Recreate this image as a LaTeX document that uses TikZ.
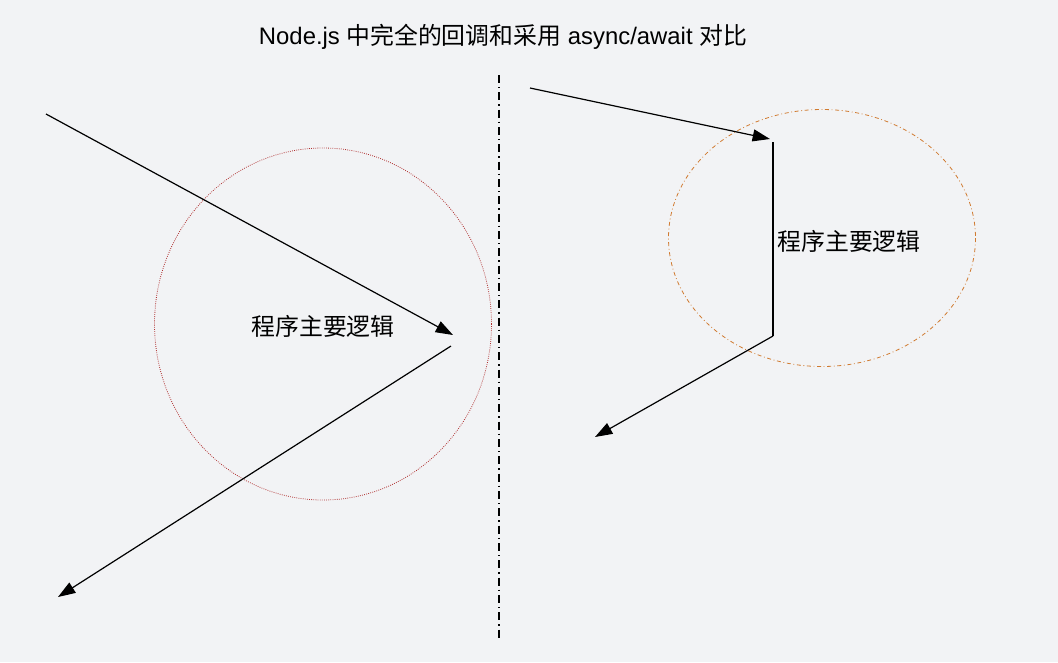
\documentclass[tikz,border=0pt]{standalone}
\usepackage{fontspec}
\setmainfont{Liberation Sans}
\newfontfamily\cjk{Noto Sans CJK SC}
\usetikzlibrary{arrows.meta}
\definecolor{bgcol}{HTML}{F2F3F5}
\definecolor{redcirc}{HTML}{B03030}
\definecolor{orangecirc}{HTML}{D07A30}
\begin{document}
\begin{tikzpicture}[x=0.75pt, y=-0.75pt, line width=0.9pt, >={Triangle[length=13pt,width=9pt]}]
                    \tikzset{label/.style={font=\fontsize{17.9}{21}\selectfont}}
                    \fill[bgcol] (0,0) rectangle (1058,662);
                    \useasboundingbox (0,0) rectangle (1058,662);
                    % Title
                    \node[label] (title) at (503,37) {Node.js {\cjk 中完全的回调和采用} async/await {\cjk 对比}};
                    % Divider
                    \coordinate (divtop) at (499,75);
                    \coordinate (divbot) at (499,638);
                    \draw[dash pattern=on 6pt off 3pt on 1pt off 3pt] (divtop) -- (divbot);
                    % Left: callbacks
                    \draw[redcirc, semithick, densely dotted] (323,324) ellipse [x radius=168.5, y radius=176];
                    \node[label] (mainL) at (323,326) {\cjk 程序主要逻辑};
                    \coordinate (inL) at (46,114);
                    \coordinate (tipL) at (453,335);
                    \coordinate (backL) at (451,346);
                    \coordinate (outL) at (58,597);
                    \draw[->] (inL) -- (tipL);
                    \draw[->] (backL) -- (outL);
                    % Right: async/await
                    \draw[orangecirc, semithick, dash dot] (822,238) ellipse [x radius=153.5, y radius=128.5];
                    \node[label] (mainR) at (849,241) {\cjk 程序主要逻辑};
                    \coordinate (inR) at (530,88);
                    \coordinate (tipR) at (770,139);
                    \coordinate (topR) at (773,142);
                    \coordinate (botR) at (773,336);
                    \coordinate (outR) at (595,437);
                    \draw[->] (inR) -- (tipR);
                    \draw (topR) -- (botR);
                    \draw[->] (botR) -- (outR);
\end{tikzpicture}
\end{document}
